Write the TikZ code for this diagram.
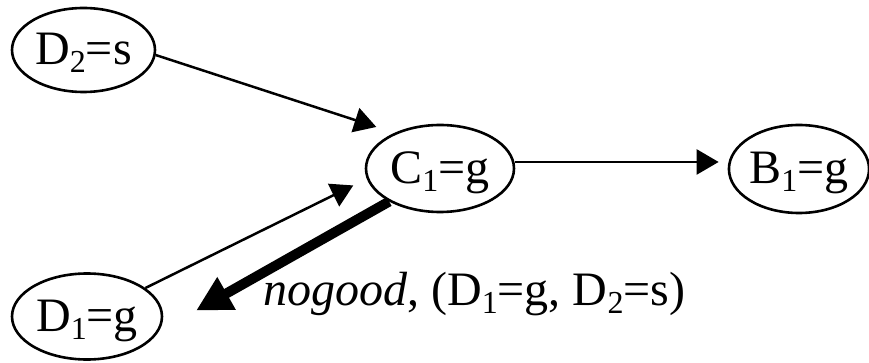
\documentclass[tikz,border=0pt]{standalone}
\usepackage{fontspec}
\setmainfont{Liberation Serif}
\usepackage{tikz}
\usetikzlibrary{positioning,arrows.meta,shapes.geometric}
\newcommand{\sbs}[1]{\raisebox{-8pt}{\fontsize{32}{32}\selectfont #1}}

\begin{document}
\begin{tikzpicture}[x=1pt,y=-1pt,
  font=\fontsize{48}{52}\selectfont,
  var/.style={ellipse,draw,line width=2.6pt,inner sep=0pt,
              text height=30pt,text depth=0pt},
  ar/.style={-{Triangle[length=22pt,width=25pt]},line width=2.5pt},
  ng/.style={-{Triangle[length=35pt,width=35pt]},line width=10pt},
  lbl/.style={inner sep=0pt}]
\useasboundingbox (0,0) rectangle (869,363);

\node[var,minimum width=143pt,minimum height=84pt] (d2) at (83.5,50) {D\sbs{2}=s};
\node[var,minimum width=148pt,minimum height=87pt] (c1) at (440,168.5) {C\sbs{1}=g};
\node[var,minimum width=140pt,minimum height=88pt] (b1) at (799,169) {B\sbs{1}=g};
\node[var,minimum width=150pt,minimum height=86pt] (d1) at (87,316.5) {D\sbs{1}=g};

\node[lbl,anchor=base west] (ngl) at (263,305)
  {\textit{nogood}, (D\sbs{1}=g, D\sbs{2}=s)};

\draw[ar,shorten >=19pt] (d2.-4) -- (c1.142);
\draw[ar,shorten >=9pt] (c1.5) -- (c1.5 -| b1.west);
\draw[ar,shorten >=15pt] (d1.26) -- (c1.188);
\draw[ng,shorten >=43pt] (c1.213) -- (d1.-12);
\end{tikzpicture}
\end{document}
